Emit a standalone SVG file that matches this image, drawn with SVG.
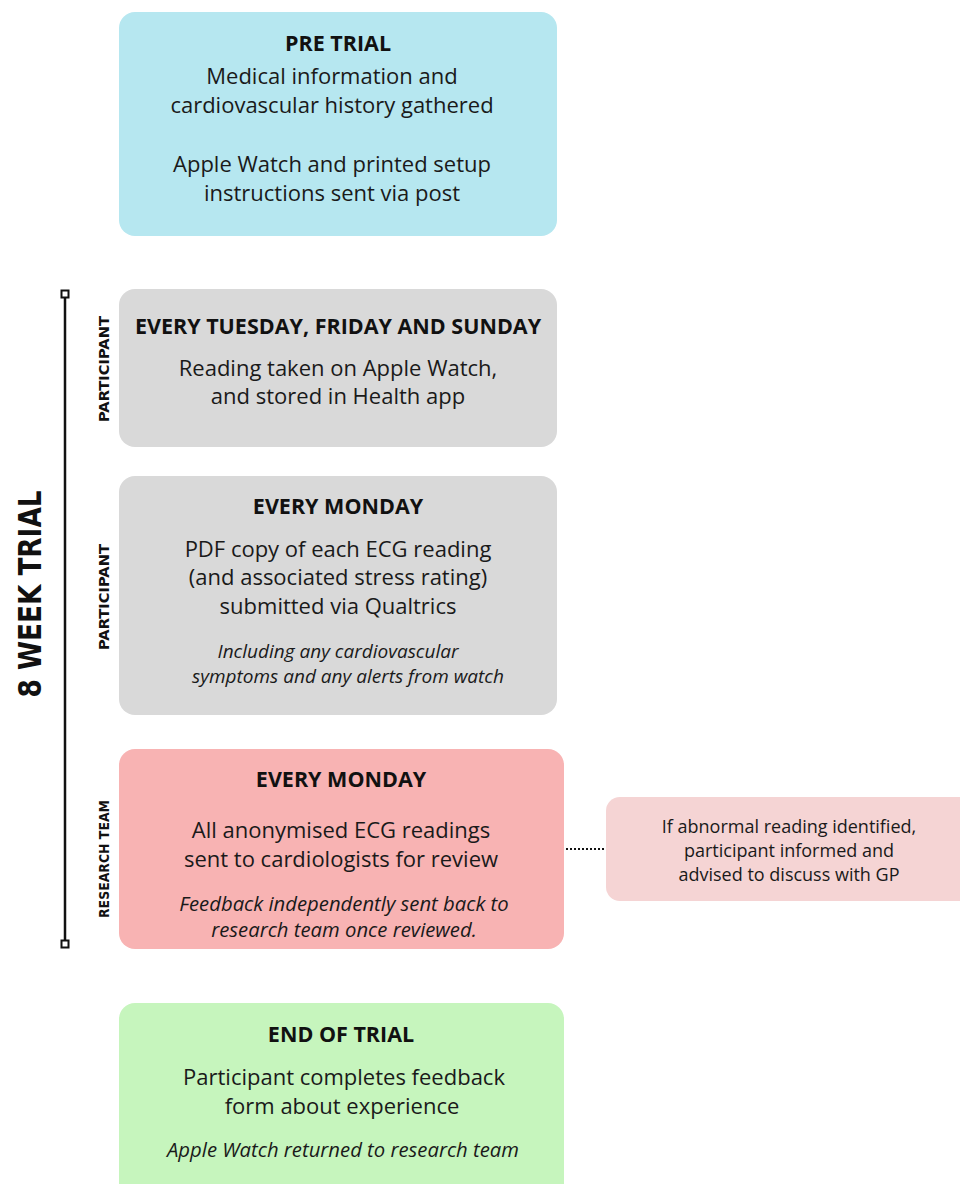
<svg xmlns="http://www.w3.org/2000/svg" width="960" height="1184" viewBox="0 0 960 1184">
<style>
.t{font-family:"Open Sans","Liberation Sans",sans-serif;font-weight:700;font-size:21.5px;fill:#111;text-anchor:middle}
.b{font-family:"Open Sans","Liberation Sans",sans-serif;font-size:22px;fill:#1a1a1a;text-anchor:middle}
.i{font-family:"Open Sans","Liberation Sans",sans-serif;font-style:italic;font-size:19px;fill:#1a1a1a;text-anchor:middle}
.i2{font-family:"Open Sans","Liberation Sans",sans-serif;font-style:italic;font-size:20.3px;fill:#1a1a1a;text-anchor:middle}
.s{font-family:"Open Sans","Liberation Sans",sans-serif;font-size:18px;fill:#1a1a1a;text-anchor:middle}
.lab{font-family:"DejaVu Sans Condensed","Liberation Sans",sans-serif;font-weight:700;fill:#111;text-anchor:middle}
</style>
<rect width="960" height="1184" fill="#fff"/>
<g id="timeline">
<line x1="65" y1="294" x2="65" y2="944" stroke="#111" stroke-width="2.5"/>
<rect x="61.5" y="290.5" width="7" height="7" fill="#fff" stroke="#111" stroke-width="2"/>
<rect x="61.5" y="940.5" width="7" height="7" fill="#fff" stroke="#111" stroke-width="2"/>
<text class="lab" font-size="32" x="41" y="594" transform="rotate(-90 41 594)" textLength="207" lengthAdjust="spacingAndGlyphs">8 WEEK TRIAL</text>
<text class="lab" font-size="14" x="109" y="369" transform="rotate(-90 109 369)" textLength="106" lengthAdjust="spacingAndGlyphs">PARTICIPANT</text>
<text class="lab" font-size="14" x="109" y="597" transform="rotate(-90 109 597)" textLength="106" lengthAdjust="spacingAndGlyphs">PARTICIPANT</text>
<text class="lab" font-size="14" x="109" y="859" transform="rotate(-90 109 859)" textLength="118" lengthAdjust="spacingAndGlyphs">RESEARCH TEAM</text>
</g>
<g id="connectors">
<line x1="566" y1="849" x2="605" y2="849" stroke="#111" stroke-width="2" stroke-dasharray="2 2"/>
</g>
<g id="pre-trial">
<rect x="119" y="12" width="438" height="224" rx="16" fill="#b6e7f0"/>
<text class="t" x="338" y="51">PRE TRIAL</text>
<text class="b" x="332" y="84">Medical information and</text>
<text class="b" x="332" y="113">cardiovascular history gathered</text>
<text class="b" x="332" y="172">Apple Watch and printed setup</text>
<text class="b" x="332" y="201">instructions sent via post</text>
</g>
<g id="tue-fri-sun">
<rect x="119" y="289" width="438" height="158" rx="16" fill="#d9d9d9"/>
<text class="t" x="338" y="334">EVERY TUESDAY, FRIDAY AND SUNDAY</text>
<text class="b" x="338" y="376">Reading taken on Apple Watch,</text>
<text class="b" x="338" y="404">and stored in Health app</text>
</g>
<g id="monday-participant">
<rect x="119" y="476" width="438" height="239" rx="16" fill="#d9d9d9"/>
<text class="t" x="338" y="514">EVERY MONDAY</text>
<text class="b" x="338" y="557">PDF copy of each ECG reading</text>
<text class="b" x="338" y="585">(and associated stress rating)</text>
<text class="b" x="338" y="614">submitted via Qualtrics</text>
<text class="i" x="338" y="658">Including any cardiovascular</text>
<text class="i" x="348" y="683">symptoms and any alerts from watch</text>
</g>
<g id="monday-research">
<rect x="119" y="749" width="445" height="200" rx="16" fill="#f8b3b3"/>
<text class="t" x="341" y="787">EVERY MONDAY</text>
<text class="b" x="341" y="838">All anonymised ECG readings</text>
<text class="b" x="341" y="867">sent to cardiologists for review</text>
<text class="i2" x="344" y="911">Feedback independently sent back to</text>
<text class="i2" x="344" y="937">research team once reviewed.</text>
</g>
<g id="abnormal">
<rect x="606" y="797" width="370" height="104" rx="14" fill="#f5d4d4"/>
<text class="s" x="789" y="833">If abnormal reading identified,</text>
<text class="s" x="789" y="857">participant informed and</text>
<text class="s" x="789" y="881">advised to discuss with GP</text>
</g>
<g id="end-of-trial">
<rect x="119" y="1003" width="445" height="200" rx="16" fill="#c6f5bd"/>
<text class="t" x="341" y="1042">END OF TRIAL</text>
<text class="b" x="344" y="1085">Participant completes feedback</text>
<text class="b" x="342" y="1114">form about experience</text>
<text class="i2" x="343" y="1157">Apple Watch returned to research team</text>
</g>
</svg>
